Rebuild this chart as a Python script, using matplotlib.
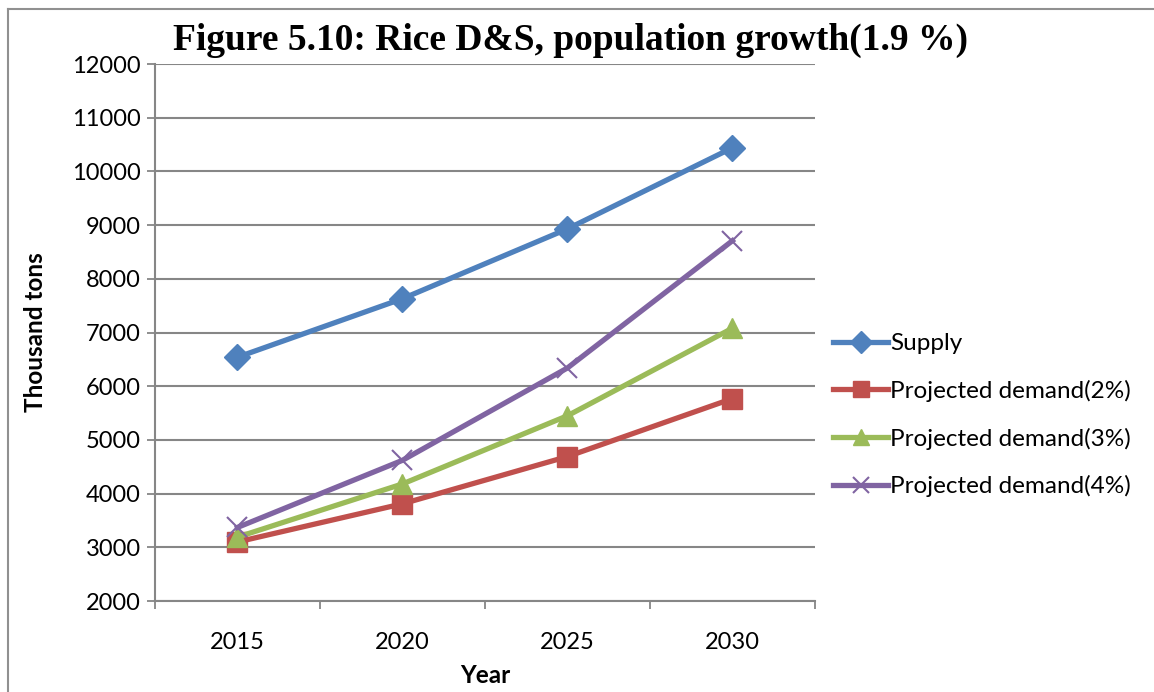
import matplotlib.pyplot as plt
from matplotlib.lines import Line2D

years = ['2015', '2020', '2025', '2030']
supply = [6540, 7630, 8930, 10440]
demand_2 = [3100, 3810, 4690, 5770]
demand_3 = [3190, 4180, 5450, 7080]
demand_4 = [3370, 4620, 6340, 8710]

series = [
    ('Supply', supply, '#4F81BD', 'D', 13),
    ('Projected demand(2%)', demand_2, '#C0504D', 's', 14),
    ('Projected demand(3%)', demand_3, '#9BBB59', '^', 14),
    ('Projected demand(4%)', demand_4, '#8064A2', 'x', 14),
]

fig = plt.figure(figsize=(11.54, 6.92), dpi=100)
ax = fig.add_axes([0.1343, 0.1315, 0.5719, 0.776])

x = range(len(years))
for name, vals, color, marker, ms in series:
    if marker == 'x':
        ax.plot(x, vals, color=color, lw=3.8, marker=marker, ms=ms,
                mew=1.5, label=name, zorder=3)
    else:
        ax.plot(x, vals, color=color, lw=3.8, marker=marker, ms=ms,
                mec=color, label=name, zorder=3)

ax.set_xlim(-0.5, 3.5)
ax.set_ylim(2000, 12000)
ax.set_yticks(range(2000, 12001, 1000))
ax.set_xticks(list(x))
ax.set_xticklabels(years)
ax.set_xticks([-0.5, 0.5, 1.5, 2.5, 3.5], minor=True)
ax.tick_params(axis='x', which='major', length=0, pad=22)
ax.tick_params(axis='x', which='minor', length=6, color='#868686', width=1.3)
ax.tick_params(axis='y', length=6, color='#868686', width=1.3, pad=4)
ax.grid(axis='y', color='#868686', lw=1.5)
ax.set_axisbelow(True)
for s in ['top', 'right']:
    ax.spines[s].set_visible(False)
for s in ['left', 'bottom']:
    ax.spines[s].set_color('#868686')
    ax.spines[s].set_linewidth(1.5)

for lbl in ax.get_xticklabels() + ax.get_yticklabels():
    lbl.set_fontfamily('Lato')
    lbl.set_fontsize(17)

ax.set_xlabel('Year', fontfamily='Lato', fontweight='bold', fontsize=17.5, labelpad=8)
ax.set_ylabel('Thousand tons', fontfamily='Lato', fontweight='bold', fontsize=17.5, labelpad=18)

fig.text(0.494, 0.942, 'Figure 5.10: Rice D&S, population growth(1.9 %)',
         fontfamily='Liberation Serif', fontweight='bold', fontsize=27,
         ha='center', va='center')

handles = []
for name, vals, color, marker, ms in series:
    handles.append(Line2D([], [], color=color, lw=3.8, marker=marker,
                          ms=ms * 0.85, mec=color, mew=1.5 if marker == 'x' else 1))
fig.legend(handles, [s[0] for s in series], loc='center left',
           bbox_to_anchor=(0.703, 0.40), frameon=False,
           prop={'family': 'Lato', 'size': 17.5}, handlelength=2.26,
           handletextpad=0.1, labelspacing=1.05)

# page frame (left and top edges)
fig.add_artist(Line2D([0.007, 0.007], [0, 0.987], color='#909090', lw=1.5))
fig.add_artist(Line2D([0.007, 1.0], [0.987, 0.987], color='#909090', lw=1.5))

fig.savefig('out.png', dpi=100)
